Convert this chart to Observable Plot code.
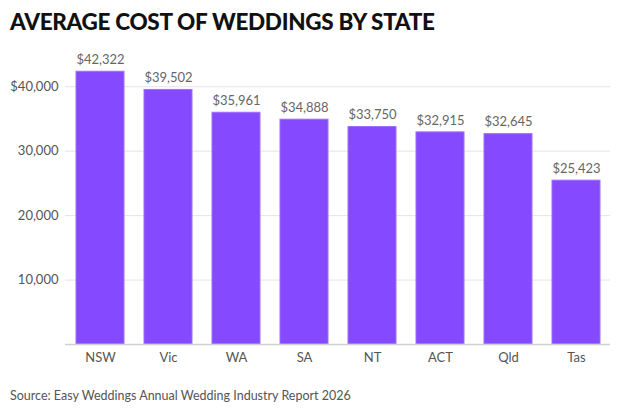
<!DOCTYPE html>
<html>
<head>
<meta charset="utf-8">
<script src="https://cdn.jsdelivr.net/npm/d3@7"></script>
<script src="https://cdn.jsdelivr.net/npm/@observablehq/plot@0.6"></script>
<style>
  html, body { margin: 0; padding: 0; background: #fff; }
  body { width: 620px; height: 414px; position: relative; font-family: Lato, "Open Sans", sans-serif; }
  #title { position: absolute; left: 10px; top: 8px; font-family: Lato, sans-serif; font-weight: 900; font-size: 22.5px; color: #111; letter-spacing: -0.3px; }
  #chart { position: absolute; left: 0; top: 40px; }
  #source { position: absolute; left: 10px; top: 388px; font-size: 12.5px; color: #555; }
</style>
</head>
<body>
<div id="title">AVERAGE COST OF WEDDINGS BY STATE</div>
<div id="chart"></div>
<div id="source">Source: Easy Weddings Annual Wedding Industry Report 2026</div>
<script>
// Average wedding cost per state (AUD)
const states = ["NSW", "Vic", "WA", "SA", "NT", "ACT", "Qld", "Tas"];
const costs = [42322, 39502, 35961, 34888, 33750, 32915, 32645, 25423];
const yTicks = [10000, 20000, 30000, 40000];

const data = states.map((s, i) => ({state: s, cost: costs[i]}));
const fmt = d3.format(",");

const chart = Plot.plot({
  width: 620,
  height: 330,
  marginLeft: 65,
  marginRight: 10,
  marginTop: 14,
  marginBottom: 26,
  style: {fontFamily: "Lato, sans-serif", fontSize: "13px", color: "#555", background: "#fff"},
  x: {domain: states, paddingInner: 0.3, paddingOuter: 0.15, label: null, tickSize: 0, tickPadding: 8},
  y: {domain: [0, 45000], label: null},
  marks: [
    Plot.gridY(yTicks, {stroke: "#e4e4e4", strokeOpacity: 1}),
    Plot.axisY(yTicks, {
      tickSize: 0, tickPadding: 7, fontSize: 13, fill: "#555",
      tickFormat: d => d === 40000 ? "$" + fmt(d) : fmt(d)
    }),
    Plot.barY(data, {x: "state", y: "cost", fill: "#8549ff", stroke: "#9e70ff", strokeWidth: 1}),
    Plot.ruleY([0], {stroke: "#d0d0d0", strokeWidth: 1.5}),
    Plot.text(data, {x: "state", y: "cost", text: d => "$" + fmt(d.cost), dy: -12, fontSize: 13, fill: "#666"})
  ]
});
document.getElementById("chart").appendChild(chart);
</script>
</body>
</html>
